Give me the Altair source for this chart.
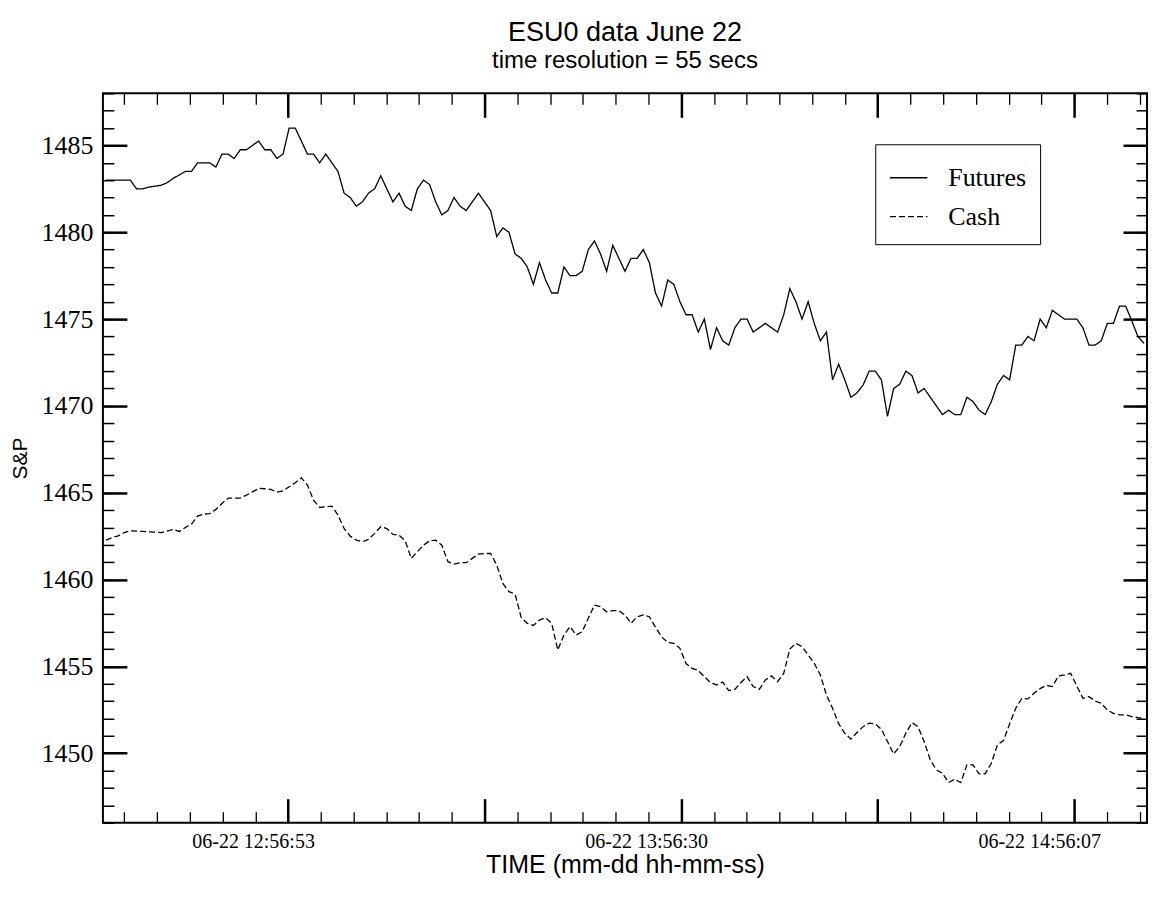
import altair as alt
import pandas as pd

# ---- data (one sample every ~55 s) ----
first_index = -29
futures = [
    1483, 1483, 1483, 1483, 1483, 1482.5, 1482.5, 1482.6, 1482.65, 1482.7,
    1482.85, 1483.1, 1483.3, 1483.5, 1483.5, 1484.0, 1484.0, 1484.0, 1483.75, 1484.5,
    1484.5, 1484.25, 1484.75, 1484.75, 1485.0, 1485.25, 1484.75, 1484.75, 1484.25, 1484.5,
    1486.0, 1486.0, 1485.25, 1484.5, 1484.5, 1484.0, 1484.5, 1484.0, 1483.5, 1482.25,
    1482.0, 1481.5, 1481.75, 1482.25, 1482.5, 1483.25, 1482.5, 1481.75, 1482.25, 1481.5,
    1481.25, 1482.5, 1483.0, 1482.75, 1481.75, 1481.0, 1481.25, 1482.0, 1481.5, 1481.25,
    1481.75, 1482.25, 1481.75, 1481.25, 1479.75, 1480.25, 1480.0, 1478.75, 1478.5, 1478.0,
    1477.0, 1478.25, 1477.25, 1476.5, 1476.5, 1478.0, 1477.5, 1477.5, 1477.75, 1479.0,
    1479.5, 1478.75, 1477.75, 1479.25, 1478.5, 1477.75, 1478.5, 1478.5, 1479.0, 1478.25,
    1476.5, 1475.75, 1477.25, 1477.0, 1476.0, 1475.25, 1475.25, 1474.25, 1475.0, 1473.25,
    1474.5, 1473.75, 1473.5, 1474.5, 1475.0, 1475.0, 1474.25, 1474.5, 1474.75, 1474.5,
    1474.25, 1475.25, 1476.75, 1476.0, 1475.0, 1476.0, 1474.75, 1473.75, 1474.25, 1471.5,
    1472.4, 1471.5, 1470.5, 1470.75, 1471.2, 1472.0, 1472.0, 1471.5, 1469.4, 1471.0,
    1471.25, 1472.0, 1471.75, 1470.75, 1471.0, 1470.5, 1470.0, 1469.5, 1469.75, 1469.5,
    1469.5, 1470.5, 1470.25, 1469.75, 1469.5, 1470.25, 1471.25, 1471.75, 1471.5, 1473.5,
    1473.5, 1474.0, 1473.75, 1475.0, 1474.5, 1475.5, 1475.25, 1475.0, 1475.0, 1475.0,
    1474.5, 1473.5, 1473.5, 1473.75, 1474.75, 1474.75, 1475.75, 1475.75, 1474.9, 1474.0,
    1473.6,
]
cash = [
    1462.27, 1462.41, 1462.52, 1462.7, 1462.81, 1462.79, 1462.77, 1462.75, 1462.73, 1462.7,
    1462.79, 1462.89, 1462.77, 1463.0, 1463.19, 1463.65, 1463.77, 1463.8, 1464.04, 1464.38,
    1464.69, 1464.69, 1464.69, 1464.86, 1465.05, 1465.25, 1465.23, 1465.19, 1465.03, 1465.11,
    1465.34, 1465.57, 1465.86, 1465.44, 1464.57, 1464.15, 1464.19, 1464.23, 1463.71, 1462.94,
    1462.5, 1462.27, 1462.18, 1462.31, 1462.66, 1463.04, 1462.94, 1462.6, 1462.56, 1462.23,
    1461.22, 1461.6, 1461.98, 1462.23, 1462.27, 1461.98, 1461.03, 1460.89, 1460.97, 1460.97,
    1461.22, 1461.47, 1461.5, 1461.5, 1460.83, 1459.78, 1459.3, 1459.17, 1457.82, 1457.48,
    1457.36, 1457.67, 1457.8, 1457.48, 1455.94, 1456.81, 1457.29, 1456.81, 1457.0, 1457.77,
    1458.53, 1458.44, 1458.15, 1458.21, 1458.21, 1457.96, 1457.48, 1457.86, 1457.96, 1457.86,
    1457.25, 1456.71, 1456.37, 1456.33, 1456.04, 1455.16, 1454.89, 1454.76, 1454.41, 1454.07,
    1453.93, 1454.1, 1453.61, 1453.68, 1454.07, 1454.41, 1453.84, 1453.68, 1454.22, 1454.45,
    1454.12, 1454.6, 1456.0, 1456.33, 1456.14, 1455.66, 1455.18, 1454.5, 1453.36, 1452.59,
    1451.7, 1451.15, 1450.81, 1451.19, 1451.53, 1451.73, 1451.69, 1451.38, 1450.67, 1449.96,
    1450.38, 1451.15, 1451.76, 1451.53, 1450.67, 1449.62, 1449.04, 1448.85, 1448.31, 1448.5,
    1448.31, 1449.33, 1449.33, 1448.81, 1448.81, 1449.42, 1450.48, 1450.73, 1451.69, 1452.59,
    1453.16, 1453.13, 1453.45, 1453.72, 1453.91, 1453.84, 1454.45, 1454.51, 1454.6, 1453.87,
    1453.16, 1453.26, 1453.01, 1452.88, 1452.49, 1452.3, 1452.21, 1452.21, 1452.11, 1452.05,
    1452.01,
]
series_names = ["Futures", "Cash"]
x_tick_labels = ["06-22 12:56:53", "06-22 13:56:30", "06-22 14:56:07"]
x_labeled_ticks = [0.82, 65.20, 129.58]
x_major_ticks = [0.82, 33.01, 65.20, 97.39, 129.58]
x_minor_ticks = [round(0.82 + 5.365 * m, 3) for m in range(-5, 27)]
y_major_ticks = list(range(1450, 1486, 5))
y_minor_ticks = list(range(1446, 1489))
x_domain = [-29.5, 141.5]
y_domain = [1446, 1488]

rows = []
for i, (f, c) in enumerate(zip(futures, cash)):
    rows.append({"k": first_index + i, "v": f, "series": series_names[0]})
    rows.append({"k": first_index + i, "v": c, "series": series_names[1]})
df = pd.DataFrame(rows)

W, H = 1045, 730
SERIF = "Liberation Serif"
SANS = "Liberation Sans"

label_expr = " : ".join(
    f"abs(datum.value - {v}) < 0.01 ? '{t}'" for v, t in zip(x_labeled_ticks, x_tick_labels)
) + " : ''"


def xs():
    return alt.Scale(domain=x_domain, nice=False, zero=False)


def ys():
    return alt.Scale(domain=y_domain, nice=False, zero=False)


def plain_axis(orient, values, size, width):
    return alt.Axis(
        orient=orient, values=values, tickSize=size, tickWidth=width, offset=-size,
        tickColor="black", domain=False, grid=False, labels=False, title=None,
    )


lines = alt.Chart(df).mark_line(strokeWidth=1.3, color="black").encode(
    x=alt.X(
        "k:Q", scale=xs(),
        axis=alt.Axis(
            orient="bottom", values=x_major_ticks, labelExpr=label_expr,
            tickSize=24, tickWidth=2.5, offset=-24, tickColor="black",
            domain=False, grid=False, labelPadding=9, labelFont=SERIF,
            labelFontSize=20, labelColor="black", labelOverlap=False, labelFlush=False,
            labelOffset=-35,
            title="TIME (mm-dd hh-mm-ss)", titleFont=SANS, titleFontSize=25,
            titleFontWeight="normal", titleColor="black", titleX=W / 2, titleY=66,
            titleBaseline="middle", titleAlign="center",
        ),
    ),
    y=alt.Y(
        "v:Q", scale=ys(),
        axis=alt.Axis(
            orient="left", values=y_major_ticks, format="d",
            tickSize=24, tickWidth=2.5, offset=-24, tickColor="black",
            domain=False, grid=False, labelPadding=10, labelFont=SERIF,
            labelFontSize=26, labelColor="black",
            title="S&P", titleFont=SANS, titleFontSize=21, titleFontWeight="normal",
            titleColor="black", titleX=-106, titleY=H / 2, titleAngle=270,
            titleBaseline="middle", titleAlign="center",
        ),
    ),
    strokeDash=alt.StrokeDash(
        "series:N",
        scale=alt.Scale(domain=series_names, range=[[1, 0], [6, 3]]),
        legend=alt.Legend(
            orient="none", legendX=773, legendY=51, title=None,
            strokeColor="black", fillColor="white", padding=14,
            symbolType="stroke", symbolSize=1400, symbolStrokeWidth=1.3,
            symbolStrokeColor="black", labelFont=SERIF, labelFontSize=26,
            labelColor="black", labelOffset=20, rowPadding=6,
        ),
    ),
    order=alt.Order("k:Q"),
)

minor_bl = alt.Chart(df).mark_point(opacity=0, size=1).encode(
    x=alt.X("k:Q", scale=xs(), axis=plain_axis("bottom", x_minor_ticks, 11, 1.3)),
    y=alt.Y("v:Q", scale=ys(), axis=plain_axis("left", y_minor_ticks, 11, 1.5)),
)
major_tr = alt.Chart(df).mark_point(opacity=0, size=1).encode(
    x=alt.X("k:Q", scale=xs(), axis=plain_axis("top", x_major_ticks, 24, 2.5)),
    y=alt.Y("v:Q", scale=ys(), axis=plain_axis("right", y_major_ticks, 24, 2.5)),
)
minor_tr = alt.Chart(df).mark_point(opacity=0, size=1).encode(
    x=alt.X("k:Q", scale=xs(), axis=plain_axis("top", x_minor_ticks, 11, 1.3)),
    y=alt.Y("v:Q", scale=ys(), axis=plain_axis("right", y_minor_ticks, 11, 1.5)),
)

chart = alt.layer(lines, minor_bl, major_tr, minor_tr).resolve_axis(
    x="independent", y="independent"
).properties(
    width=W, height=H,
    autosize=alt.AutoSizeParams(type="none"),
    padding={"left": 95, "top": 85, "right": 12, "bottom": 85},
    title=alt.TitleParams(
        text="ESU0 data June 22", subtitle="time resolution = 55 secs",
        font=SANS, fontSize=27, fontWeight="normal", color="black",
        subtitleFont=SANS, subtitleFontSize=24, subtitleColor="black",
        anchor="middle", offset=18, subtitlePadding=2,
    ),
).configure(
    background="white",
    view=alt.ViewConfig(stroke="black", strokeWidth=2),
)

chart.save("out.html", embed_options={"renderer": "svg", "actions": False})
